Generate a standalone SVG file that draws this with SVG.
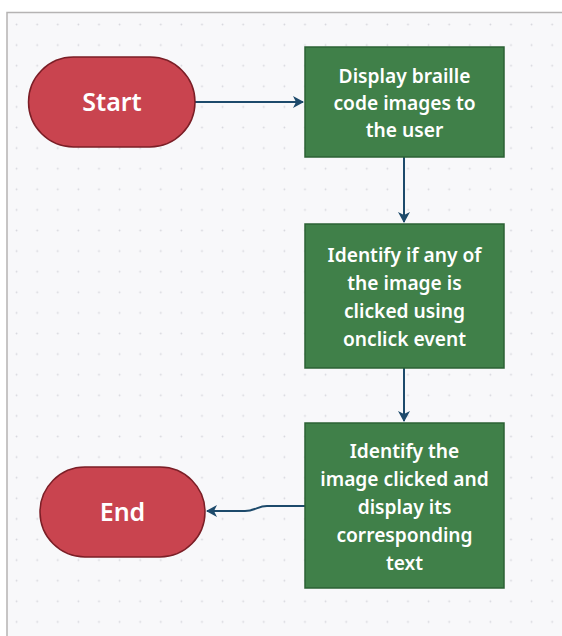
<svg xmlns="http://www.w3.org/2000/svg" width="562" height="636" viewBox="0 0 562 636">
<defs>
<pattern id="dots" x="6.3" y="14.2" width="20.6" height="20.6" patternUnits="userSpaceOnUse">
<circle cx="10.3" cy="10.3" r="0.9" fill="#d6d6dc"/>
</pattern>
<marker id="arr" markerWidth="12" markerHeight="12" refX="10" refY="6" orient="auto" markerUnits="userSpaceOnUse">
<path d="M0,0 L11,6 L0,12 L3,6 Z" fill="#1d4a6b"/>
</marker>
<style>
.term{fill:#c9444f;stroke:#7b1e26;stroke-width:1.5}
.proc{fill:#408049;stroke:#2b6134;stroke-width:1.5}
.t{font-family:"Noto Sans","Open Sans",sans-serif;font-weight:600;fill:#ffffff;text-anchor:middle}
.big{font-size:25px}
.sm{font-size:19.2px}
.c{fill:none;stroke:#1d4a6b;stroke-width:2}
</style>
</defs>
<rect x="0" y="0" width="562" height="636" fill="#ffffff"/>
<rect x="7" y="12.5" width="570" height="640" fill="#f8f8fa" stroke="#b5b3b3" stroke-width="1.5"/>
<rect x="8" y="13.5" width="560" height="630" fill="url(#dots)"/>
<g id="connectors">
<path class="c" d="M195,102 L303,102" marker-end="url(#arr)"/>
<path class="c" d="M404,157 L404,222" marker-end="url(#arr)"/>
<path class="c" d="M404,368 L404,421" marker-end="url(#arr)"/>
<path class="c" d="M305,506 L267,506 C258,506 255,511 245,511 L207,511" marker-end="url(#arr)"/>
</g>
<g id="start">
<rect class="term" x="28.5" y="57" width="166.5" height="90" rx="45"/>
<text class="t big" x="112" y="111">Start</text>
</g>
<g id="display">
<rect class="proc" x="305" y="47" width="199" height="110"/>
<text class="t sm" x="404.5" y="83">Display braille</text>
<text class="t sm" x="404.5" y="110">code images to</text>
<text class="t sm" x="404.5" y="137">the user</text>
</g>
<g id="identify">
<rect class="proc" x="305" y="224" width="199" height="144"/>
<text class="t sm" x="404.5" y="261.5">Identify if any of</text>
<text class="t sm" x="404.5" y="289.5">the image is</text>
<text class="t sm" x="404.5" y="317.5">clicked using</text>
<text class="t sm" x="404.5" y="345.5">onclick event</text>
</g>
<g id="identify2">
<rect class="proc" x="305" y="423" width="199" height="165"/>
<text class="t sm" x="404.5" y="458">Identify the</text>
<text class="t sm" x="404.5" y="486">image clicked and</text>
<text class="t sm" x="404.5" y="513.5">display its</text>
<text class="t sm" x="404.5" y="541.5">corresponding</text>
<text class="t sm" x="404.5" y="569.5">text</text>
</g>
<g id="end">
<rect class="term" x="40" y="467" width="165" height="90" rx="45"/>
<text class="t big" x="122.5" y="521">End</text>
</g>
</svg>
